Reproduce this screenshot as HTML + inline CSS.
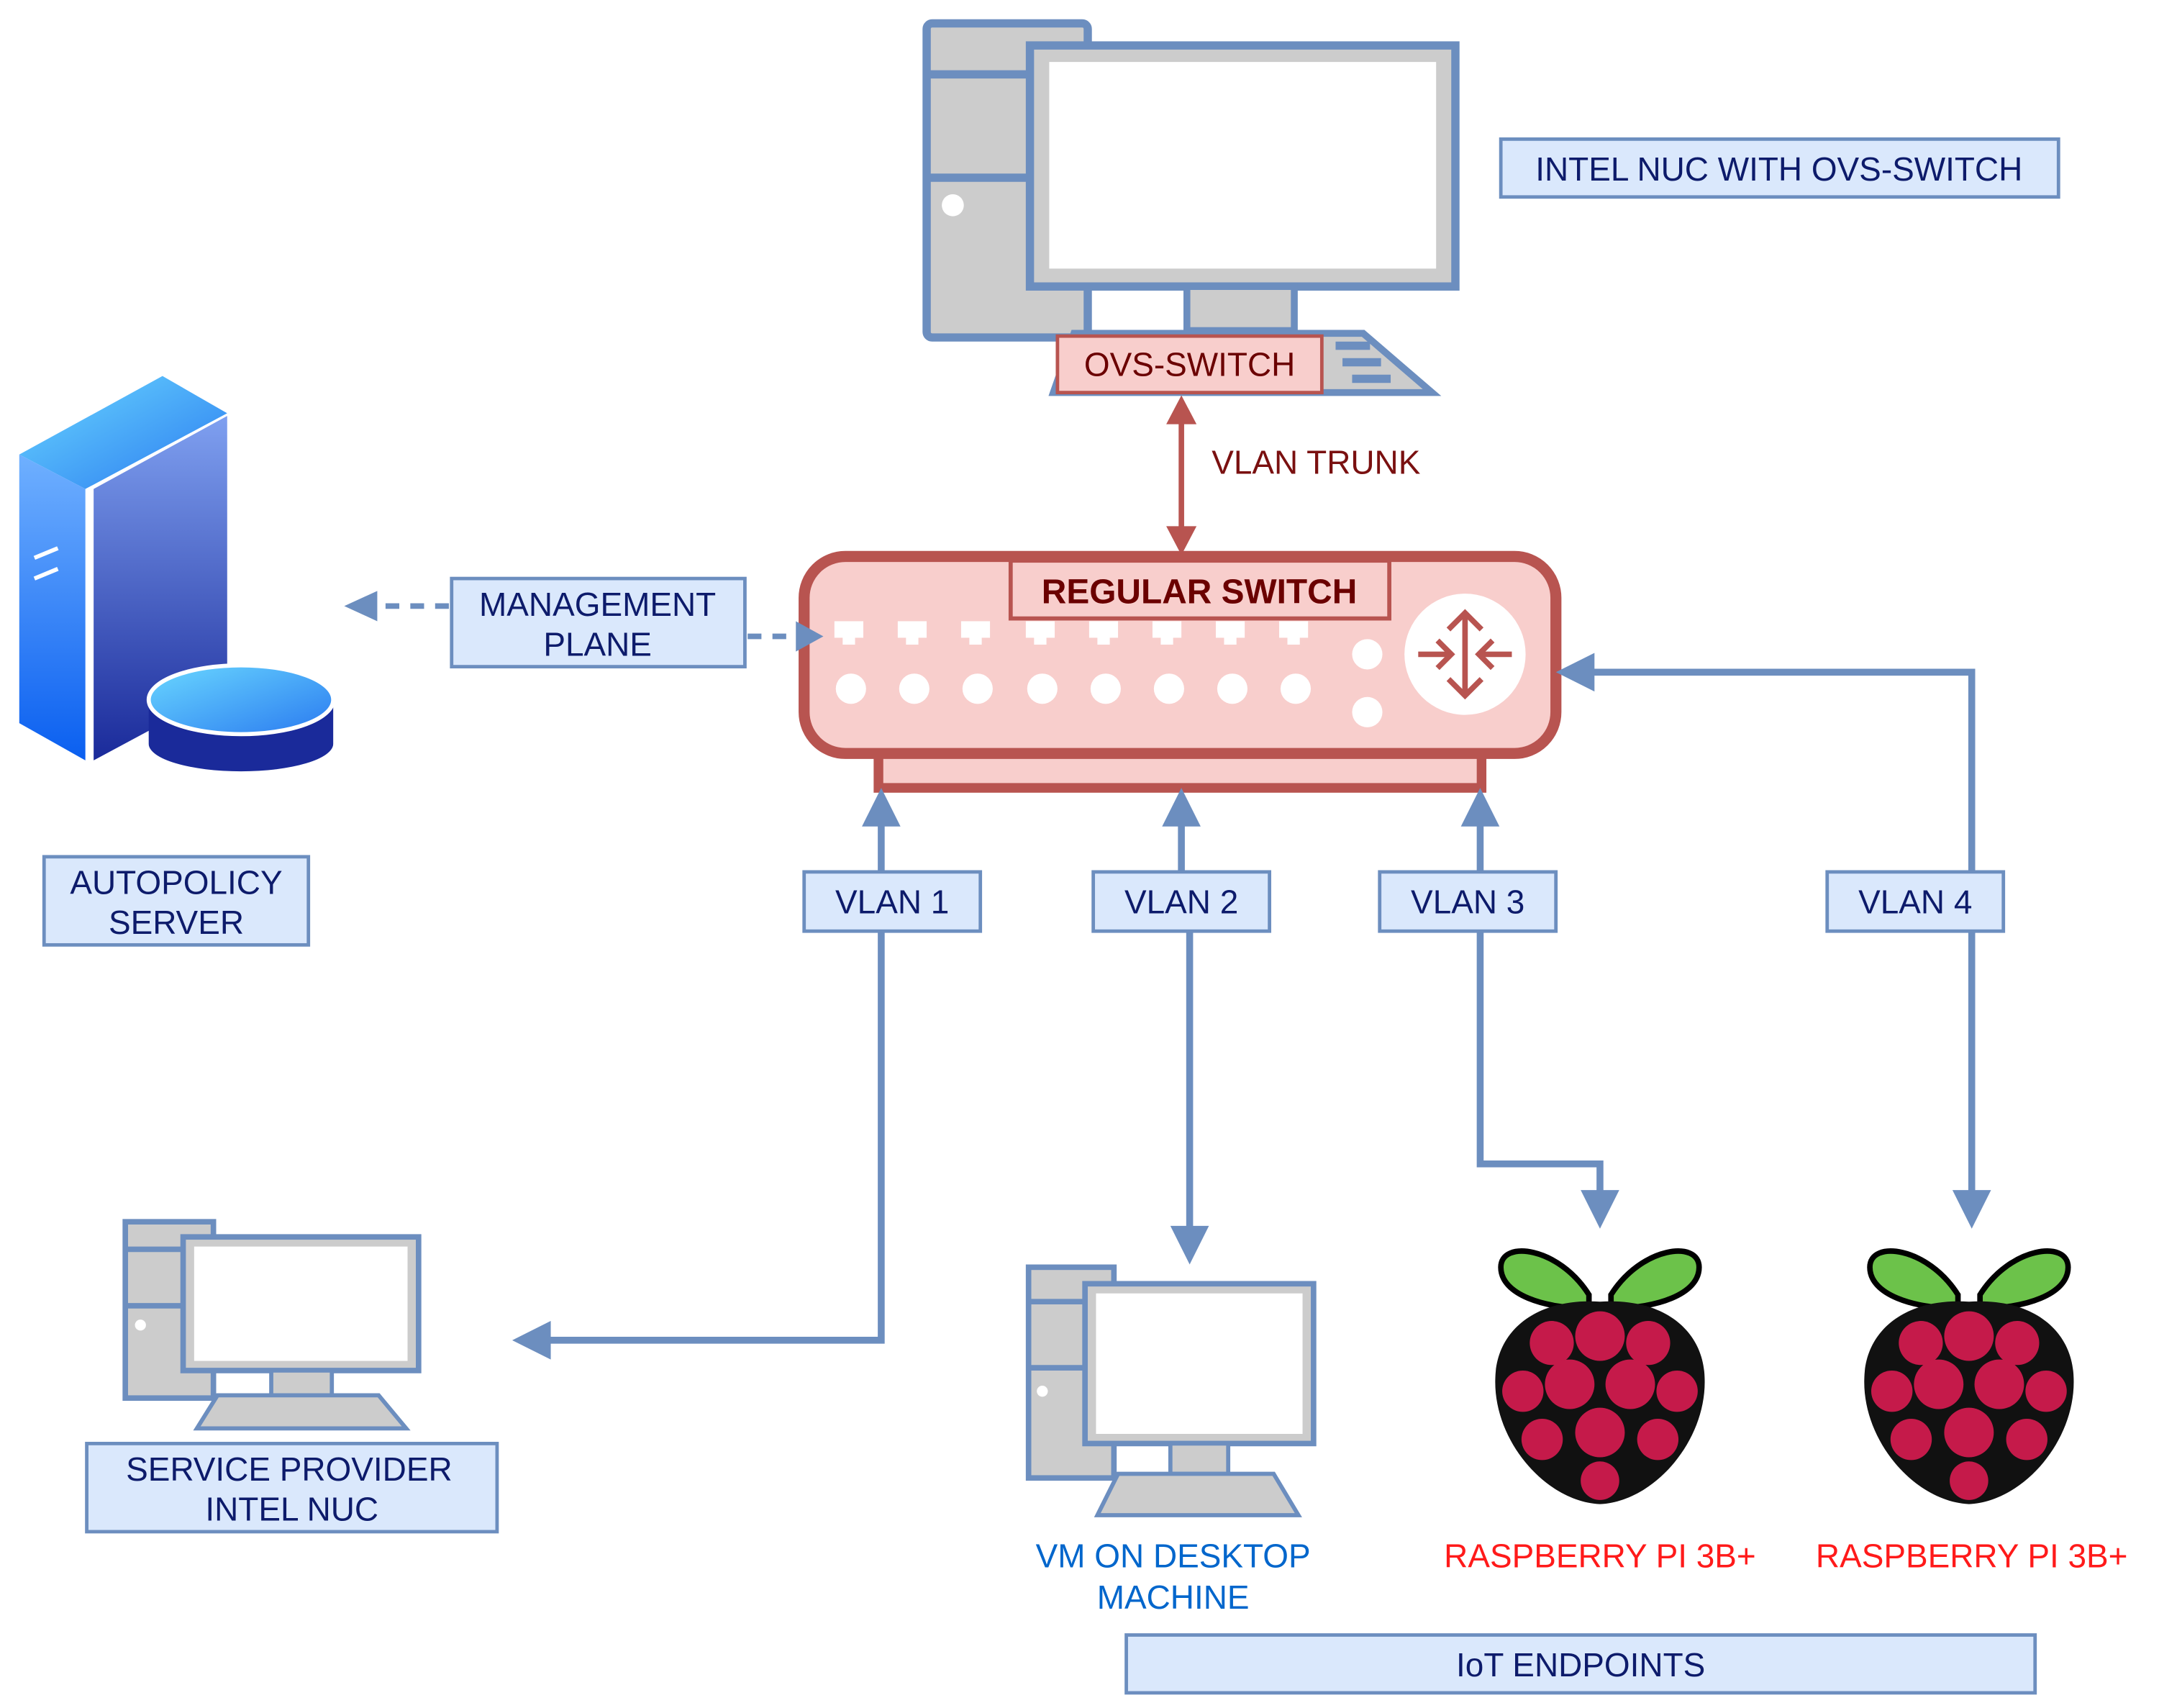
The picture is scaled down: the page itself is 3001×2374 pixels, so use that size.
<!DOCTYPE html>
<html><head><meta charset="utf-8"><style>html,body{margin:0;padding:0;background:#fff}svg{display:block}</style></head><body>
<svg width="3001" height="2374" viewBox="0 0 1568 1240" preserveAspectRatio="none" xmlns="http://www.w3.org/2000/svg" font-family="Liberation Sans, sans-serif">
<defs>
<linearGradient id="g1" x1="0" y1="0" x2="0" y2="1"><stop offset="0" stop-color="#6fb0ff"/><stop offset="1" stop-color="#0a5ff0"/></linearGradient>
<linearGradient id="g2" x1="0" y1="0" x2="0" y2="1"><stop offset="0" stop-color="#7fa0f0"/><stop offset="1" stop-color="#1a2a9a"/></linearGradient>
<linearGradient id="g3" x1="0" y1="0" x2="1" y2="1"><stop offset="0" stop-color="#6ad8ff"/><stop offset="1" stop-color="#2a7af0"/></linearGradient>
<g id="pc">
<rect x="3" y="3" width="117" height="228" rx="4" fill="#ccc" stroke="#6c8ebf" stroke-width="6"/>
<line x1="3" y1="40" x2="120" y2="40" stroke="#6c8ebf" stroke-width="6"/>
<line x1="3" y1="115" x2="120" y2="115" stroke="#6c8ebf" stroke-width="6"/>
<circle cx="22" cy="135" r="8" fill="#fff"/>
</g>
<g id="rpi">
<path d="M-8,-60 C-30,-95 -72,-100 -72,-80 C-72,-60 -40,-50 -8,-50Z" fill="#6cc24a" stroke="#000" stroke-width="4"/>
<path d="M8,-60 C30,-95 72,-100 72,-80 C72,-60 40,-50 8,-50Z" fill="#6cc24a" stroke="#000" stroke-width="4"/>
<path d="M0,-55 C45,-58 75,-35 76,0 C78,45 40,90 0,92 C-40,90 -78,45 -76,0 C-75,-35 -45,-58 0,-55Z" fill="#111"/>
<g fill="#c51a4a">
<circle cx="0" cy="-30" r="18"/><circle cx="-35" cy="-25" r="16"/><circle cx="35" cy="-25" r="16"/>
<circle cx="-56" cy="10" r="15"/><circle cx="56" cy="10" r="15"/><circle cx="-22" cy="5" r="18"/><circle cx="22" cy="5" r="18"/>
<circle cx="-42" cy="45" r="15"/><circle cx="42" cy="45" r="15"/><circle cx="0" cy="40" r="18"/><circle cx="0" cy="75" r="14"/>
</g>
</g>
</defs>
<use href="#pc" x="670" y="14"/>
<rect x="748" y="33" width="309" height="175" fill="#ccc" stroke="#6c8ebf" stroke-width="6"/>
<rect x="762" y="45" width="281" height="150" fill="#fff"/>
<rect x="862" y="208" width="78" height="32" fill="#ccc" stroke="#6c8ebf" stroke-width="5"/>
<polygon points="780,242 990,242 1040,285 765,285" fill="#ccc" stroke="#6c8ebf" stroke-width="5"/>
<rect x="970" y="248" width="25" height="6" fill="#6c8ebf"/><rect x="975" y="260" width="28" height="6" fill="#6c8ebf"/><rect x="982" y="272" width="28" height="6" fill="#6c8ebf"/>
<rect x="768" y="244" width="192" height="41" fill="#f8cecc" stroke="#b85450" stroke-width="2.5"/>
<text x="864" y="273" font-size="24" text-anchor="middle" fill="#6b0000">OVS-SWITCH</text>
<rect x="1090" y="101" width="405" height="42" fill="#dae8fc" stroke="#6c8ebf" stroke-width="2.5"/>
<text x="1292" y="131" font-size="24" text-anchor="middle" fill="#0d1b6b">INTEL NUC WITH OVS-SWITCH</text>
<line x1="858" y1="305" x2="858" y2="385" stroke="#b85450" stroke-width="4"/>
<polygon points="858,287 847,308 869,308" fill="#b85450"/><polygon points="858,403 847,382 869,382" fill="#b85450"/>
<text x="880" y="344" font-size="24" fill="#7a1010">VLAN TRUNK</text>
<rect x="638" y="540" width="438" height="32" fill="#f8cecc" stroke="#b85450" stroke-width="7"/>
<rect x="584" y="404" width="546" height="143" rx="30" fill="#f8cecc" stroke="#b85450" stroke-width="8"/>
<rect x="734" y="407" width="275" height="42" fill="#f8cecc" stroke="#b85450" stroke-width="3"/>
<text x="871" y="438" font-size="25" font-weight="bold" text-anchor="middle" fill="#6b0000">REGULAR SWITCH</text>
<g fill="#fff">
<g id="port"><rect x="606" y="451" width="21" height="12"/><rect x="612" y="462" width="9" height="6"/><circle cx="618" cy="500" r="11"/></g>
<use href="#port" x="46"/><use href="#port" x="92"/><use href="#port" x="139"/><use href="#port" x="185"/><use href="#port" x="231"/><use href="#port" x="277"/><use href="#port" x="323"/>
<circle cx="993" cy="475" r="11"/><circle cx="993" cy="517" r="11"/>
<circle cx="1064" cy="475" r="44"/>
</g>
<g stroke="#b85450" stroke-width="4" fill="none">
<line x1="1064" y1="445" x2="1064" y2="505"/><polyline points="1052,457 1064,445 1076,457"/><polyline points="1052,493 1064,505 1076,493"/>
<line x1="1030" y1="475" x2="1054" y2="475"/><polyline points="1044,465 1054,475 1044,485"/>
<line x1="1098" y1="475" x2="1074" y2="475"/><polyline points="1084,465 1074,475 1084,485"/>
</g>
<polygon points="14,330 118,273 165,300 62,355" fill="url(#g3)"/>
<polygon points="14,330 62,355 62,552 14,525" fill="url(#g1)"/>
<polygon points="68,355 165,302 165,500 68,552" fill="url(#g2)"/>
<line x1="25" y1="405" x2="42" y2="398" stroke="#fff" stroke-width="3"/><line x1="25" y1="420" x2="42" y2="413" stroke="#fff" stroke-width="3"/>
<path d="M108,508 L108,540 A67,20 0 0 0 242,540 L242,508Z" fill="#1a2a9a"/>
<ellipse cx="175" cy="508" rx="67" ry="25" fill="url(#g3)" stroke="#fff" stroke-width="3"/>
<line x1="326" y1="440" x2="272" y2="440" stroke="#6c8ebf" stroke-width="4" stroke-dasharray="10,8"/>
<polygon points="250,440 274,429 274,451" fill="#6c8ebf"/>
<line x1="543" y1="462" x2="580" y2="462" stroke="#6c8ebf" stroke-width="4" stroke-dasharray="10,8"/>
<polygon points="598,462 578,451 578,473" fill="#6c8ebf"/>
<rect x="328" y="420" width="213" height="64" fill="#dae8fc" stroke="#6c8ebf" stroke-width="2.5"/>
<text x="434" y="447" font-size="24" text-anchor="middle" fill="#0d1b6b">MANAGEMENT</text>
<text x="434" y="476" font-size="24" text-anchor="middle" fill="#0d1b6b">PLANE</text>
<rect x="32" y="622" width="192" height="64" fill="#dae8fc" stroke="#6c8ebf" stroke-width="2.5"/>
<text x="128" y="649" font-size="24" text-anchor="middle" fill="#0d1b6b">AUTOPOLICY</text>
<text x="128" y="678" font-size="24" text-anchor="middle" fill="#0d1b6b">SERVER</text>
<g stroke="#6c8ebf" stroke-width="5" fill="none">
<polyline points="640,595 640,973 395,973"/>
<line x1="858" y1="595" x2="858" y2="635"/>
<line x1="864" y1="676" x2="864" y2="895"/>
<polyline points="1075,595 1075,845 1162,845 1162,868"/>
<polyline points="1152,488 1432,488 1432,868"/>
</g>
<g fill="#6c8ebf">
<polygon points="640,572 626,600 654,600"/><polygon points="858,572 844,600 872,600"/><polygon points="1075,572 1061,600 1089,600"/>
<polygon points="372,973 400,959 400,987"/><polygon points="864,918 850,890 878,890"/>
<polygon points="1162,892 1148,864 1176,864"/><polygon points="1432,892 1418,864 1446,864"/>
<polygon points="1130,488 1158,474 1158,502"/>
</g>
<g fill="#dae8fc" stroke="#6c8ebf" stroke-width="2.5">
<rect x="584" y="633" width="128" height="43"/><rect x="794" y="633" width="128" height="43"/><rect x="1002" y="633" width="128" height="43"/><rect x="1327" y="633" width="128" height="43"/>
</g>
<g font-size="24" text-anchor="middle" fill="#0d1b6b">
<text x="648" y="663">VLAN 1</text><text x="858" y="663">VLAN 2</text><text x="1066" y="663">VLAN 3</text><text x="1391" y="663">VLAN 4</text>
</g>
<g>
<rect x="91" y="887" width="64" height="128" fill="#ccc" stroke="#6c8ebf" stroke-width="4"/>
<line x1="91" y1="907" x2="155" y2="907" stroke="#6c8ebf" stroke-width="4"/><line x1="91" y1="948" x2="155" y2="948" stroke="#6c8ebf" stroke-width="4"/>
<circle cx="102" cy="962" r="4" fill="#fff"/>
<rect x="133" y="898" width="171" height="97" fill="#ccc" stroke="#6c8ebf" stroke-width="4"/>
<rect x="141" y="905" width="155" height="83" fill="#fff"/>
<rect x="197" y="995" width="44" height="18" fill="#ccc" stroke="#6c8ebf" stroke-width="3"/>
<polygon points="158,1013 275,1013 295,1037 143,1037" fill="#ccc" stroke="#6c8ebf" stroke-width="3"/>
</g>
<rect x="63" y="1048" width="298" height="64" fill="#dae8fc" stroke="#6c8ebf" stroke-width="2.5"/>
<text x="210" y="1075" font-size="24" text-anchor="middle" fill="#0d1b6b">SERVICE PROVIDER</text>
<text x="212" y="1104" font-size="24" text-anchor="middle" fill="#0d1b6b">INTEL NUC</text>
<g>
<rect x="747" y="920" width="62" height="153" fill="#ccc" stroke="#6c8ebf" stroke-width="4"/>
<line x1="747" y1="945" x2="809" y2="945" stroke="#6c8ebf" stroke-width="4"/><line x1="747" y1="993" x2="809" y2="993" stroke="#6c8ebf" stroke-width="4"/>
<circle cx="757" cy="1010" r="4" fill="#fff"/>
<rect x="788" y="932" width="166" height="116" fill="#ccc" stroke="#6c8ebf" stroke-width="4"/>
<rect x="796" y="939" width="150" height="102" fill="#fff"/>
<rect x="850" y="1048" width="42" height="22" fill="#ccc" stroke="#6c8ebf" stroke-width="3"/>
<polygon points="812,1070 925,1070 943,1100 797,1100" fill="#ccc" stroke="#6c8ebf" stroke-width="3"/>
</g>
<text x="852" y="1138" font-size="24" text-anchor="middle" fill="#0066cc">VM ON DESKTOP</text>
<text x="852" y="1168" font-size="24" text-anchor="middle" fill="#0066cc">MACHINE</text>
<use href="#rpi" x="1162" y="1000"/>
<use href="#rpi" x="1430" y="1000"/>
<text x="1162" y="1138" font-size="24" text-anchor="middle" fill="#ff1a1a">RASPBERRY PI 3B+</text>
<text x="1432" y="1138" font-size="24" text-anchor="middle" fill="#ff1a1a">RASPBERRY PI 3B+</text>
<rect x="818" y="1187" width="660" height="42" fill="#dae8fc" stroke="#6c8ebf" stroke-width="2.5"/>
<text x="1148" y="1217" font-size="24" text-anchor="middle" fill="#0d1b6b">IoT ENDPOINTS</text>
</svg>
</body></html>
